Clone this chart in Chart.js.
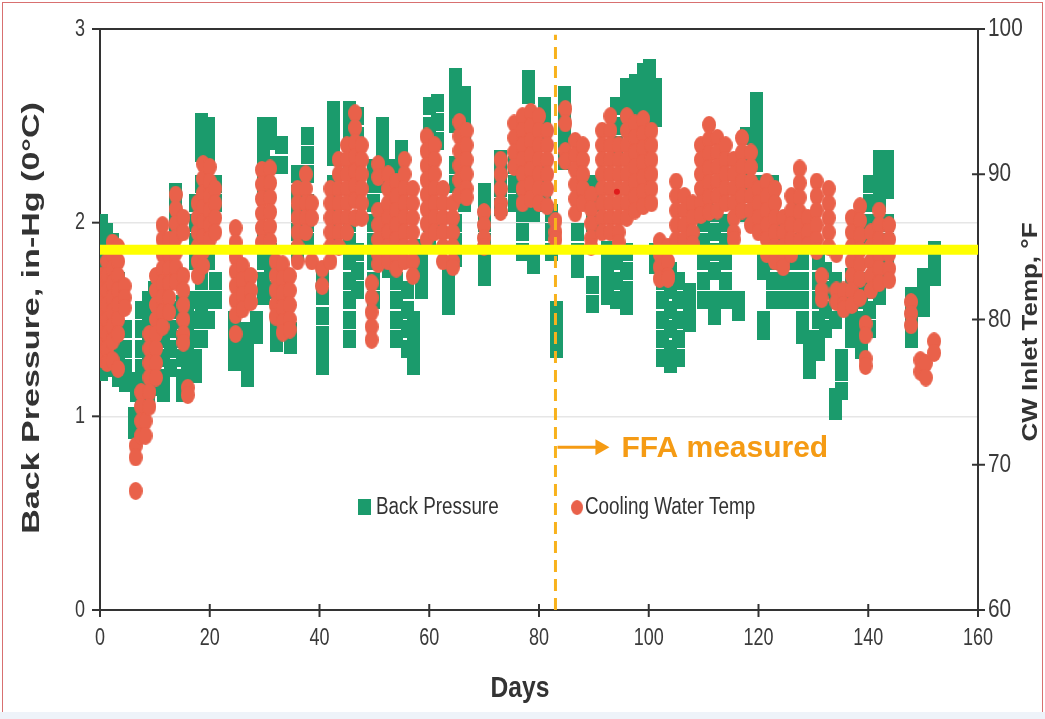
<!DOCTYPE html>
<html>
<head>
<meta charset="utf-8">
<script src="https://cdn.jsdelivr.net/npm/chart.js@4"></script>
<style>
  html, body { margin: 0; padding: 0; background: #fff; }
  #wrap { position: relative; width: 1045px; height: 719px; }
  #frame { position: absolute; left: 2px; top: 2px; width: 1039px; height: 709px; border: 1px solid #d87070; border-bottom: none; pointer-events: none; }
  #band { position: absolute; left: 0; top: 712px; width: 1045px; height: 7px; background: #eef3f9; }
</style>
</head>
<body>
<div id="wrap">
  <canvas id="chart"></canvas>
  <div id="frame"></div>
  <div id="band"></div>
</div>
<script>
// readings grouped by day (several readings per day)
const bpDays = [0.3, 1.2, 2.3, 3.3, 4.6, 6.2, 6.6, 7.5, 8.8, 10, 11.5, 12.8, 13.8, 15, 16, 17.4, 18.5, 19.8, 21,
  24.5, 26.8, 28.6, 29.8, 31, 32.2, 33, 34.8, 36, 37.8, 40.5, 42.5, 45.5, 47, 49.8, 51.5, 52.5, 54, 55, 56, 57.2,
  58.6, 60, 61.5, 63.5, 64.8, 66.5, 70, 73, 75.6, 77, 78, 79, 81, 82.2, 83.2, 84.7, 87, 89.7, 92.5, 94.2, 96, 97.5,
  99, 100.2, 101.2, 102.5, 104, 105.5, 107.5, 110, 112, 114, 116.3, 117.8, 119.6, 121, 122.5, 124.5, 126.5, 128,
  129.3, 131, 132.3, 134, 135.2, 137, 138.8, 140.2, 142, 143.5, 147.8, 150, 152];
const bpValues = [
  [2.0, 1.92, 1.84, 1.76, 1.68, 1.6, 1.52, 1.44, 1.36, 1.28, 1.23],
  [1.95, 1.85, 1.55, 1.45, 1.35, 1.25],
  [1.9, 1.8, 1.4, 1.32, 1.25],
  [1.7, 1.6, 1.35, 1.28, 1.2],
  [1.45, 1.35, 1.25, 1.17],
  [1.0, 0.93],
  [1.18, 1.12],
  [1.55, 1.45, 1.35, 1.25, 1.15, 1.08],
  [1.6, 1.5, 1.4, 1.3, 1.2, 1.1],
  [1.65, 1.55, 1.45, 1.35, 1.25, 1.15],
  [1.5, 1.4, 1.3, 1.2, 1.12],
  [1.55, 1.45, 1.35, 1.25],
  [2.16, 2.08, 2.0],
  [1.58, 1.5, 1.4, 1.3, 1.2, 1.12],
  [1.55, 1.45, 1.35, 1.25],
  [2.1, 2.0, 1.9, 1.8, 1.6, 1.5, 1.4, 1.3, 1.22],
  [2.52, 2.44, 2.36, 2.2, 1.7, 1.55, 1.4],
  [2.5, 2.42, 2.34, 1.9, 1.8, 1.6, 1.5],
  [2.2, 2.1, 1.7, 1.6],
  [1.5, 1.42, 1.35, 1.28],
  [1.44, 1.36, 1.28, 1.2],
  [1.5, 1.42],
  [2.5, 2.42, 2.34, 2.26, 2.18, 1.9, 1.8, 1.7, 1.62],
  [2.5, 2.42, 2.3, 1.85, 1.75, 1.65],
  [1.46, 1.38],
  [2.4, 2.3],
  [1.44, 1.37],
  [2.25, 2.15, 2.05, 1.95, 1.85],
  [2.45, 2.35, 2.25, 2.1, 2.0, 1.9],
  [1.72, 1.62, 1.52, 1.42, 1.34, 1.26],
  [2.58, 2.5, 2.42, 2.34, 2.2, 2.1, 2.0, 1.9],
  [2.58, 2.5, 2.42, 2.3, 2.0, 1.9, 1.8, 1.7, 1.6, 1.5, 1.4],
  [2.55, 2.45, 2.35, 1.85, 1.75, 1.65],
  [2.28, 2.2, 2.1, 2.0, 1.9, 1.8, 1.7, 1.6],
  [2.5, 2.42, 2.34, 2.2, 2.0, 1.9, 1.8],
  [2.28, 1.76],
  [1.8, 1.7, 1.6, 1.5, 1.4],
  [2.38, 2.3, 2.22, 2.1],
  [1.65, 1.55, 1.45, 1.35],
  [1.5, 1.42, 1.33, 1.26],
  [1.87, 1.8, 1.72, 1.65],
  [2.6, 2.5, 2.4, 2.3, 2.2, 2.1, 2.0, 1.9],
  [2.62, 2.52, 2.42, 2.0],
  [1.72, 1.64, 1.57],
  [2.75, 2.67, 2.59, 2.51, 2.3, 2.2, 2.0, 1.9, 1.82],
  [2.66, 2.58, 2.5, 2.4, 2.3, 2.2, 2.1],
  [2.16, 2.08, 2.0, 1.9, 1.8, 1.72],
  [2.33, 2.25, 2.18, 2.08],
  [2.3, 2.2, 2.1],
  [2.15, 2.05, 1.95, 1.85],
  [2.74, 2.66],
  [1.84, 1.78, 2.15, 2.05],
  [2.6, 2.52, 2.44, 2.3, 2.2, 2.1],
  [2.05, 1.95, 1.85],
  [1.55, 1.47, 1.4, 1.35],
  [2.66, 2.58, 2.5, 2.42, 2.32],
  [1.95, 1.85, 1.76],
  [1.68, 1.58, 2.2, 2.1, 2.0],
  [1.86, 1.78, 1.7, 1.62],
  [2.6, 2.5, 2.4, 1.8, 1.7, 1.6],
  [2.7, 2.62, 2.54, 1.85, 1.75, 1.65, 1.57],
  [2.72, 2.64, 2.56],
  [2.78, 2.7, 2.62, 2.54, 2.46],
  [2.8, 2.72, 2.64, 2.56],
  [2.7, 2.62, 2.54, 1.85, 1.78],
  [1.8, 1.7, 1.6, 1.5, 1.4, 1.3],
  [1.75, 1.65, 1.55, 1.45, 1.35, 1.27],
  [1.7, 1.6, 1.5, 1.4, 1.3],
  [1.64, 1.56, 1.48],
  [2.1, 2.0, 1.9, 1.8, 1.7, 1.6],
  [2.05, 1.95, 1.85, 1.75, 1.6, 1.52],
  [2.0, 1.9, 1.8, 1.7, 1.6],
  [1.6, 1.54],
  [2.45, 2.35, 2.25, 2.15, 2.05],
  [2.63, 2.55, 2.47, 2.39, 2.31, 2.2, 2.1],
  [1.83, 1.75, 1.5, 1.44],
  [2.2, 2.1, 2.0, 1.9, 1.8, 1.7, 1.6],
  [2.0, 1.9, 1.8, 1.7, 1.6],
  [2.1, 2.0, 1.9, 1.8, 1.7, 1.6],
  [1.8, 1.7, 1.6, 1.5, 1.42],
  [1.4, 1.32, 1.24],
  [1.8, 1.7, 1.6, 1.5, 1.4, 1.33],
  [1.75, 1.65, 1.55, 1.45],
  [1.7, 1.6, 1.5, 1.1, 1.03],
  [1.3, 1.23, 1.13],
  [1.72, 1.64, 1.56, 1.48, 1.4],
  [1.7, 1.6, 1.5, 1.42, 1.34],
  [1.65, 1.55, 1.45, 2.2, 2.1, 2.0, 1.9],
  [2.33, 2.25, 2.18, 2.1, 2.0, 1.9, 1.8, 1.7, 1.62],
  [2.33, 2.25, 2.17, 2.0, 1.9, 1.8, 1.72],
  [1.62, 1.54, 1.46, 1.4],
  [1.72, 1.64, 1.56],
  [1.86, 1.8, 1.72],
];

const cwDays = [0.3, 1.3, 2.3, 3.3, 4.5, 6.5, 7.5, 8.3, 9, 10.2, 11.4, 12.6, 13.8, 15.2, 16, 17.8, 18.8, 20, 21,
  24.7, 26, 27.5, 29.5, 31, 32, 33.3, 34.6, 36, 37.5, 38.6, 40.5, 42, 43.5, 45, 46.5, 47.7, 49.5, 50.7, 52.5, 54,
  55.5, 57, 59.5, 61, 62.5, 64.3, 65.5, 66.8, 70, 73, 75.5, 77, 78.5, 80, 81.5, 83, 84.8, 86.6, 88, 89.5, 91.5, 93,
  94.5, 96, 97.5, 99, 100.5, 102, 103.5, 105, 106.5, 108, 109.5, 111, 112.5, 114, 115.5, 117, 118.6, 120, 121.5,
  123, 124.5, 126, 127.5, 129, 130.6, 131.5, 132.8, 134.2, 135.5, 137, 138.5, 139.5, 140.5, 142, 143.8, 147.8,
  149.5, 150.5, 152];
const cwTemps = [
  [83, 82, 81, 80, 79, 78, 77.3],
  [84, 83, 82, 81, 80, 79, 78, 77],
  [85.3, 84.5, 83.5, 82.5, 81.5, 80.5, 79.5, 78.5, 77.2],
  [85, 84, 83, 82, 81, 80, 79, 76.6],
  [82.3, 81.5, 80.8],
  [71.3, 70.5, 68.2],
  [75, 74, 73, 72],
  [73, 72],
  [79, 78, 77, 76, 75, 74],
  [83, 82, 81, 80, 79, 78, 77, 76],
  [86.5, 85.5, 84.5, 83.5, 82.5, 81.5, 80.5, 79.5],
  [85.5, 84.5, 83.5, 82.5, 81.5, 80.5],
  [88.6, 87.6, 86.6, 85.6, 84.6, 83.6, 82.6],
  [87, 86, 83, 82, 81, 80, 79, 78.4],
  [75.3, 74.8],
  [88, 87, 86, 85, 84, 83],
  [90.7, 89.7, 88.7, 87.7, 86.7, 85.7, 84.7, 83.7],
  [90.5, 89.5, 88.5, 87.5, 86.5, 85.5],
  [89, 88, 87, 86],
  [86.3, 85.3, 84.3, 83.3, 82.3, 81.3, 80.3, 79],
  [83.7, 82.7, 81.7, 80.7],
  [83, 82, 81.2],
  [90.3, 89.3, 88.3, 87.3, 86.3, 85.3],
  [90.4, 89.4, 88.4, 87.4, 86.4, 85.4],
  [84, 83, 82, 81, 80.2],
  [83.8, 82.8, 81.8, 80.8, 79.8, 79.1],
  [83, 82, 81, 80, 79.3],
  [89, 88, 87, 86, 85, 84],
  [90, 89, 88, 87, 86],
  [88, 87, 84],
  [83.5, 82.3],
  [89, 88, 87, 86, 85, 84],
  [91, 90, 89, 88, 87, 86, 85],
  [92, 91, 90, 89, 88, 87, 86],
  [94.2, 93.2, 92.2, 91.2, 90.2, 89.2, 88.2, 87],
  [92, 91, 90, 89, 88, 87],
  [82.5, 81.5, 80.5, 79.5, 78.6],
  [90.7, 89.8, 87.5, 86.5, 85.5, 84.5, 83.8],
  [90, 89, 88, 87, 86, 85, 84],
  [89.5, 88.5, 87.5, 86.5, 85.5, 84.5, 83.5],
  [91, 90, 89, 88, 87, 86, 85, 84],
  [89, 88, 87, 86, 85, 84, 83],
  [92.6, 91.6, 90.6, 89.6, 88.6, 87.6, 86.6, 85.5],
  [92, 91, 90, 89, 88, 87, 86],
  [89, 88, 87, 86, 85, 84],
  [88, 87, 86, 85, 84, 83.6],
  [93.6, 92.6, 91.6, 90.6, 89.6, 88.6],
  [93, 92, 91, 90, 89, 88.4],
  [87.4, 86.5, 85.6, 85],
  [91, 90, 89, 88, 87.4],
  [93.5, 92.5, 91.5, 90.5],
  [94, 93, 92, 91, 90, 89, 88],
  [94.3, 93.3, 92.3, 91.3, 90.3, 89.3, 88.3],
  [94, 93, 92, 91, 90, 89, 88],
  [93, 92, 91, 90, 89, 87.8],
  [86.8, 86, 85.5],
  [94.5, 93.5, 91.6, 90.9],
  [92.3, 91.3, 90.3, 89.3, 88.3, 87.3],
  [92, 91, 90, 89, 88],
  [88.6, 87.6, 86.6, 85.6, 85],
  [93, 92, 91, 90, 89, 88, 87, 86],
  [94, 93, 92, 91, 90, 89, 88, 87, 86],
  [92, 91, 90, 89, 88, 87, 86, 85.3],
  [94, 93, 92, 91, 90, 89, 88, 87],
  [93.5, 92.5, 91.5, 90.5, 89.5, 88.5, 87.5],
  [93.8, 92.8, 91.8, 90.8, 89.8, 88.8, 87.8],
  [93, 92, 91, 90, 89, 88],
  [85.4, 84.5, 83.6, 82.8],
  [85, 84, 83, 82.8],
  [89.5, 88.5, 87.5, 86.5, 85.5],
  [88.5, 87.5, 86.5, 85.5],
  [88, 87, 86, 85.2],
  [92, 91, 90, 89, 88, 87.2],
  [93.4, 92.4, 91.4, 90.4, 89.4, 88.4, 87.4],
  [92.5, 91.5, 90.5, 89.5, 88.5, 87.5],
  [92, 91, 90, 89, 88],
  [91, 90, 89, 88, 87, 86, 85.5],
  [92.5, 91.5, 90.5, 89.5, 88.5, 87.5],
  [91.5, 90.5, 89.5, 88.5, 87.5, 86.5],
  [89, 88, 87, 86],
  [89.5, 88.5, 87.5, 86.5, 85.5, 84.5],
  [89, 88, 87, 86, 85, 84],
  [87, 86, 85, 84, 83.6],
  [88.5, 87.5, 86.5, 85.5, 84.5],
  [90.4, 89.4, 88.4, 87.4, 86.4, 85.4],
  [87, 86, 85.1],
  [89.5, 88.5, 87.5, 86.5, 85.5, 84.7],
  [83, 82, 81.4],
  [89, 88, 87, 86, 85],
  [82, 81.2, 84.5],
  [82, 81, 80.7],
  [87, 86, 85, 84, 83, 82, 81],
  [87.8, 86.8, 85.8, 84.8, 83.8, 82.8, 81.5],
  [79.7, 78.9, 77.3, 76.8],
  [86, 85, 84, 83, 82],
  [87.5, 86.5, 85.5, 84.5, 83.5, 82.5],
  [86.5, 85.5, 84.5, 83.5, 82.7],
  [81.2, 80.4, 79.6],
  [77.2, 76.4],
  [77, 76],
  [78.5, 77.7],
];

const spotDays = [94.2];
const spotTemps = [88.8];

const xTicks = [0, 20, 40, 60, 80, 100, 120, 140, 160];
const bpTicks = [0, 1, 2, 3];
const tempTicks = [60, 70, 80, 90, 100];
const targetPressure = 1.86;
const ffaDay = 83;

const GREEN = '#1b9b6c';
const RED = '#e9614a';
const INK = '#333';
const sans = '"Liberation Sans", Arial, sans-serif';

const toPoints = (days, values) => days.flatMap((d, i) => values[i].map((v) => ({ x: d, y: v })));

const makeMarker = (color, round, w, h) => {
  const c = document.createElement('canvas');
  c.width = w;
  c.height = h;
  const g = c.getContext('2d');
  g.fillStyle = color;
  g.beginPath();
  if (round) g.ellipse(w / 2, h / 2, w / 2, h / 2, 0, 0, Math.PI * 2);
  else g.rect(0, 0, w, h);
  g.fill();
  return c;
};
const squareMark = makeMarker(GREEN, false, 13, 18);
const roundMark = makeMarker(RED, true, 14, 18);

// text with a horizontal squeeze (stands in for Arial Narrow) or a stretch along a rotated title
const drawText = (ctx, text, px, py, font, sx, rot = 0) => {
  ctx.save();
  ctx.translate(px, py);
  if (rot) ctx.rotate(rot);
  ctx.scale(sx, 1);
  ctx.font = font;
  ctx.fillText(text, 0, 0);
  ctx.restore();
};

const extras = {
  id: 'extras',
  afterDraw(chart) {
    const { ctx, chartArea: { left, right, top, bottom }, scales: { x, y, y2 } } = chart;
    ctx.save();
    const line = (x1, y1, x2, y2_) => {
      ctx.beginPath(); ctx.moveTo(x1, y1); ctx.lineTo(x2, y2_); ctx.stroke();
    };
    ctx.strokeStyle = INK;
    ctx.lineWidth = 2;
    line(left, top, right, top);
    bpTicks.forEach((v) => { const py = y.getPixelForValue(v); line(left - 8, py, left, py); });
    xTicks.forEach((v) => { const px = x.getPixelForValue(v); line(px, bottom - 6, px, bottom + 7); });
    tempTicks.forEach((v) => { const py = y2.getPixelForValue(v); line(right - 6, py, right + 7, py); });

    // tick labels
    ctx.fillStyle = '#3a3a3a';
    ctx.textBaseline = 'middle';
    ctx.textAlign = 'center';
    xTicks.forEach((v) => drawText(ctx, String(v), x.getPixelForValue(v), bottom + 28, `24px ${sans}`, 0.75));
    ctx.textAlign = 'right';
    bpTicks.forEach((v) => drawText(ctx, String(v), left - 15, y.getPixelForValue(v), `24px ${sans}`, 0.75));
    ctx.textAlign = 'left';
    tempTicks.forEach((v) => drawText(ctx, String(v), right + 10, y2.getPixelForValue(v), `26px ${sans}`, 0.8));

    // axis titles
    ctx.fillStyle = INK;
    ctx.textAlign = 'center';
    drawText(ctx, 'Back Pressure, in-Hg (0°C)', 33, 318, `bold 23px ${sans}`, 1.48, -Math.PI / 2);
    drawText(ctx, 'CW Inlet Temp, °F', 1031, 332, `bold 22px ${sans}`, 1.18, -Math.PI / 2);
    drawText(ctx, 'Days', 520, 689, `bold 30px ${sans}`, 0.82);

    // legend
    ctx.textAlign = 'left';
    ctx.drawImage(squareMark, 358, 499, 13, 16);
    drawText(ctx, 'Back Pressure', 376, 508, `23px ${sans}`, 0.82);
    ctx.drawImage(roundMark, 571, 500, 12, 15);
    drawText(ctx, 'Cooling Water Temp', 585, 508, `23px ${sans}`, 0.82);

    // FFA annotation
    const ax = x.getPixelForValue(ffaDay) + 2;
    const ay = y.getPixelForValue(0.84);
    ctx.strokeStyle = '#f59b14';
    ctx.fillStyle = '#f59b14';
    ctx.lineWidth = 3;
    line(ax, ay, ax + 40, ay);
    ctx.beginPath();
    ctx.moveTo(ax + 52, ay);
    ctx.lineTo(ax + 38, ay - 8);
    ctx.lineTo(ax + 38, ay + 8);
    ctx.closePath();
    ctx.fill();
    ctx.font = `bold 30px ${sans}`;
    ctx.fillText('FFA measured', ax + 64, ay + 1);
    ctx.restore();
  },
};

new Chart(document.getElementById('chart'), {
  type: 'scatter',
  data: {
    datasets: [
      {
        type: 'line',
        label: 'Target',
        data: [{ x: 0, y: targetPressure }, { x: 160, y: targetPressure }],
        borderColor: '#ffff00',
        borderWidth: 10,
        pointRadius: 0,
        yAxisID: 'y',
        order: 0,
      },
      {
        type: 'line',
        label: 'FFA',
        data: [{ x: ffaDay, y: 0 }, { x: ffaDay, y: 2.97 }],
        borderColor: '#f8b21c',
        borderWidth: 3,
        borderDash: [12, 7],
        pointRadius: 0,
        yAxisID: 'y',
        order: 0,
      },
      {
        label: 'Spot',
        data: toPoints(spotDays, spotTemps.map((t) => [t])),
        pointStyle: 'circle',
        pointRadius: 3,
        backgroundColor: '#e01c1c',
        borderWidth: 0,
        yAxisID: 'y2',
        order: 1,
      },
      {
        label: 'Cooling Water Temp',
        data: toPoints(cwDays, cwTemps),
        pointStyle: roundMark,
        pointRadius: 7,
        yAxisID: 'y2',
        order: 2,
      },
      {
        label: 'Back Pressure',
        data: toPoints(bpDays, bpValues),
        pointStyle: squareMark,
        pointRadius: 7,
        yAxisID: 'y',
        order: 3,
      },
    ],
  },
  options: {
    responsive: true,
    maintainAspectRatio: false,
    animation: false,
    layout: { padding: { top: 29, left: 0, right: 0, bottom: 0 } },
    scales: {
      x: {
        type: 'linear',
        min: 0,
        max: 160,
        afterBuildTicks: (s) => { s.ticks = xTicks.map((v) => ({ value: v })); },
        afterFit: (s) => { s.height = 109; },
        ticks: { display: false },
        grid: { drawOnChartArea: false, drawTicks: false },
        border: { display: true, color: INK, width: 2 },
      },
      y: {
        position: 'left',
        min: 0,
        max: 3,
        afterBuildTicks: (s) => { s.ticks = bpTicks.map((v) => ({ value: v })); },
        afterFit: (s) => { s.width = 100; },
        ticks: { display: false },
        grid: {
          drawTicks: false,
          lineWidth: 1.5,
          color: (c) => (c.tick && (c.tick.value === 1 || c.tick.value === 2) ? '#e6e6e6' : 'rgba(0,0,0,0)'),
        },
        border: { display: true, color: INK, width: 2 },
      },
      y2: {
        position: 'right',
        min: 60,
        max: 100,
        afterBuildTicks: (s) => { s.ticks = tempTicks.map((v) => ({ value: v })); },
        afterFit: (s) => { s.width = 67; },
        ticks: { display: false },
        grid: { drawOnChartArea: false, drawTicks: false },
        border: { display: true, color: INK, width: 2 },
      },
    },
    plugins: {
      legend: { display: false },
      tooltip: { enabled: false },
    },
  },
  plugins: [extras],
});
</script>
</body>
</html>
